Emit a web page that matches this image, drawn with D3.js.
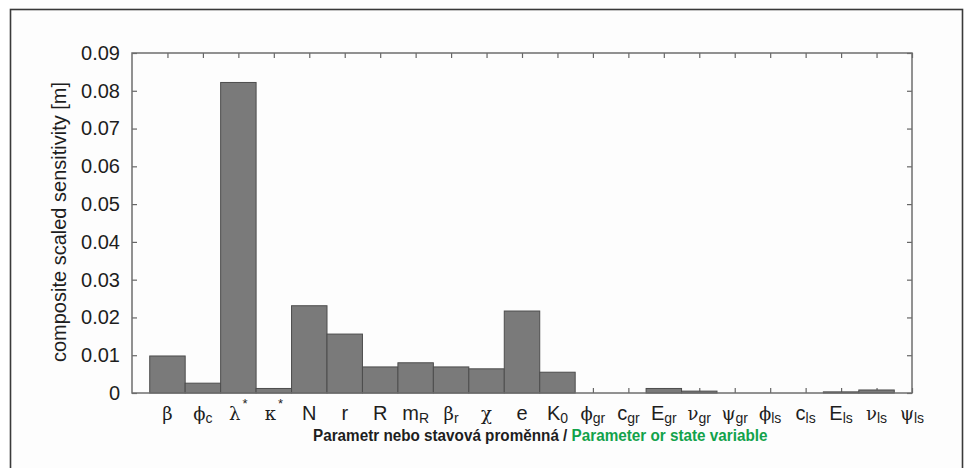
<!DOCTYPE html>
<html>
<head>
<meta charset="utf-8">
<script src="https://cdn.jsdelivr.net/npm/d3@7"></script>
<style>
  html, body { margin: 0; padding: 0; background: #ffffff; }
  svg { display: block; }
</style>
</head>
<body>
<svg id="chart" width="965" height="468"></svg>
<script>
// Parameters / state variables (base symbol, subscript, superscript)
const symbols      = ["β","ϕ","λ","κ","N","r","R","m","β","χ","e","K","ϕ","c","E","ν","ψ","ϕ","c","E","ν","ψ"];
const subscripts   = ["","c","","","","","","R","r","","","0","gr","gr","gr","gr","gr","ls","ls","ls","ls","ls"];
const superscripts = ["","","*","*","","","","","","","","","","","","","","","","","",""];
// Composite scaled sensitivity [m]
const sensitivity  = [0.0098,0.0026,0.0822,0.0012,0.0231,0.0156,0.0069,0.0080,0.0069,0.0064,0.0217,0.0055,
                      0,0,0.0012,0.0005,0,0,0,0.0003,0.0008,0];
const yTicks = [0,0.01,0.02,0.03,0.04,0.05,0.06,0.07,0.08,0.09];
const yTitle = "composite scaled sensitivity [m]";
const xTitleCz = "Parametr nebo stavová proměnná / ";
const xTitleEn = "Parameter or state variable";

const svg = d3.select("#chart");
const plot = { left: 132, right: 912, top: 53, bottom: 393 };
const idx = d3.range(symbols.length);

const x = d3.scaleLinear().domain([-1, symbols.length - 1]).range([plot.left, plot.right]);
const y = d3.scaleLinear().domain([0, 0.09]).range([plot.bottom, plot.top]);
const barW = x(0.5) - x(-0.5);

// outer frame
svg.append("rect")
  .attr("x", 10.5).attr("y", 9.5).attr("width", 952).attr("height", 480)
  .attr("fill", "#fdfdfd").attr("stroke", "#3a3a3a").attr("stroke-width", 1.6);

const font = "'Liberation Sans', Arial, Helvetica, sans-serif";

// axes with inward ticks
const axisStyle = g => {
  g.select(".domain").remove();
  g.selectAll(".tick line").attr("stroke", "#666").attr("stroke-width", 1.2);
};

svg.append("g")
  .attr("transform", `translate(${plot.left},0)`)
  .call(d3.axisLeft(y).tickValues(yTicks).tickSize(-5).tickPadding(12)
        .tickFormat(d => d === 0 ? "0" : d3.format(".2f")(d)))
  .call(axisStyle)
  .call(g => g.selectAll(".tick text")
      .attr("font-family", font).attr("font-size", 20).attr("fill", "#1e1e1e"));

svg.append("g")
  .attr("transform", `translate(${plot.right},0)`)
  .call(d3.axisRight(y).tickValues(yTicks).tickSize(-5).tickFormat(""))
  .call(axisStyle);

svg.append("g")
  .attr("transform", `translate(0,${plot.top})`)
  .call(d3.axisTop(x).tickValues(idx).tickSize(-5).tickFormat(""))
  .call(axisStyle);

svg.append("g")
  .attr("transform", `translate(0,${plot.bottom})`)
  .call(d3.axisBottom(x).tickValues(idx).tickSize(-5).tickFormat(""))
  .call(axisStyle);

// bars
svg.append("g").selectAll("rect")
  .data(idx)
  .join("rect")
  .attr("x", i => x(i) - barW / 2)
  .attr("y", i => y(sensitivity[i]))
  .attr("width", barW)
  .attr("height", i => y(0) - y(sensitivity[i]))
  .attr("fill", "#7a7a7a")
  .attr("stroke", "#4d4d4d")
  .attr("stroke-width", 1);

// plot frame
svg.append("rect")
  .attr("x", plot.left).attr("y", plot.top)
  .attr("width", plot.right - plot.left).attr("height", plot.bottom - plot.top)
  .attr("fill", "none").attr("stroke", "#6e6e6e").attr("stroke-width", 1.5);

// category labels with sub/superscripts
const isGreek = s => /[\u0370-\u03FF]/.test(s);
const labels = svg.append("g").selectAll("text")
  .data(idx)
  .join("text")
  .attr("x", i => x(i))
  .attr("y", 420)
  .attr("text-anchor", "middle")
  .attr("font-family", font)
  .attr("font-size", 20)
  .attr("fill", "#1e1e1e");

labels.each(function(i) {
  const t = d3.select(this);
  t.append("tspan")
    .attr("font-family", isGreek(symbols[i]) ? "'DejaVu Serif', 'Liberation Serif', serif" : font)
    .attr("font-size", isGreek(symbols[i]) ? 18 : 20)
    .text(symbols[i]);
  if (superscripts[i]) {
    t.append("tspan").attr("font-size", 13).attr("dx", 2).attr("dy", -12).text(superscripts[i]);
    t.append("tspan").attr("dy", 12).text("");
  }
  if (subscripts[i]) {
    t.append("tspan").attr("font-size", 14).attr("dy", 3).text(subscripts[i]);
  }
});

// y-axis title
svg.append("text")
  .attr("transform", "translate(66,222) rotate(-90)")
  .attr("text-anchor", "middle")
  .attr("font-family", font)
  .attr("font-size", 20)
  .attr("fill", "#1e1e1e")
  .text(yTitle);

// x-axis title (Czech / English)
const xt = svg.append("text")
  .attr("font-family", font)
  .attr("font-size", 17)
  .attr("font-weight", "bold")
  .attr("x", 0).attr("y", 0);
xt.append("tspan").attr("fill", "#1e1e1e").text(xTitleCz);
xt.append("tspan").attr("fill", "#12a24b").text(xTitleEn);
const w = xt.node().getComputedTextLength();
xt.attr("transform", `translate(313,441) scale(${455 / w},1)`);
</script>
</body>
</html>
